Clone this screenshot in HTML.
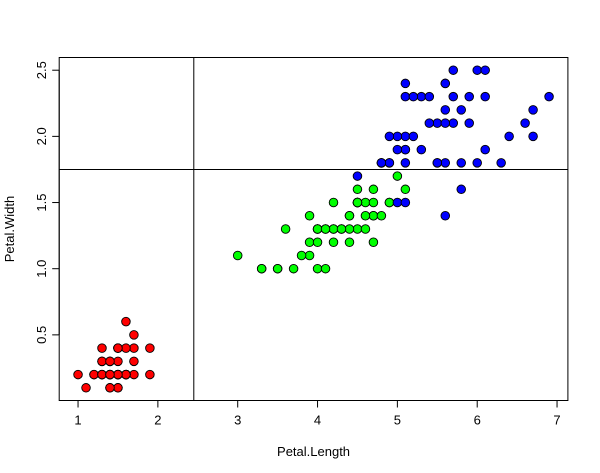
<!DOCTYPE html>
<html><head><meta charset="utf-8">
<style>
body{margin:0;background:#fff;}
svg{display:block;font-family:"Liberation Sans",Arial,sans-serif;}
</style></head>
<body>
<svg id="chart" width="600" height="473" viewBox="0 0 600 473" xmlns="http://www.w3.org/2000/svg">
<g id="axes"></g>
<g id="points"></g>
</svg>
<script>
const setosaLen=[1.4,1.4,1.3,1.5,1.4,1.7,1.4,1.5,1.4,1.5,1.5,1.6,1.4,1.1,1.2,1.5,1.3,1.4,1.7,1.5,1.7,1.5,1.0,1.7,1.9,1.6,1.6,1.5,1.4,1.6,1.6,1.5,1.5,1.4,1.5,1.2,1.3,1.4,1.3,1.5,1.3,1.3,1.3,1.6,1.9,1.4,1.6,1.4,1.5,1.4];
const setosaWid=[0.2,0.2,0.2,0.2,0.2,0.4,0.3,0.2,0.2,0.1,0.2,0.2,0.1,0.1,0.2,0.4,0.4,0.3,0.3,0.3,0.2,0.4,0.2,0.5,0.2,0.2,0.4,0.2,0.2,0.2,0.2,0.4,0.1,0.2,0.2,0.2,0.2,0.1,0.2,0.2,0.3,0.3,0.2,0.6,0.4,0.3,0.2,0.2,0.2,0.2];
const versiLen=[4.7,4.5,4.9,4.0,4.6,4.5,4.7,3.3,4.6,3.9,3.5,4.2,4.0,4.7,3.6,4.4,4.5,4.1,4.5,3.9,4.8,4.0,4.9,4.7,4.3,4.4,4.8,5.0,4.5,3.5,3.8,3.7,3.9,5.1,4.5,4.5,4.7,4.4,4.1,4.0,4.4,4.6,4.0,3.3,4.2,4.2,4.2,4.3,3.0,4.1];
const versiWid=[1.4,1.5,1.5,1.3,1.5,1.3,1.6,1.0,1.3,1.4,1.0,1.5,1.0,1.4,1.3,1.4,1.5,1.0,1.5,1.1,1.8,1.3,1.5,1.2,1.3,1.4,1.4,1.7,1.5,1.0,1.1,1.0,1.2,1.6,1.5,1.6,1.5,1.3,1.3,1.3,1.2,1.4,1.2,1.0,1.3,1.2,1.3,1.3,1.1,1.3];
const virgLen=[6.0,5.1,5.9,5.6,5.8,6.6,4.5,6.3,5.8,6.1,5.1,5.3,5.5,5.0,5.1,5.3,5.5,6.7,6.9,5.0,5.7,4.9,6.7,4.9,5.7,6.0,4.8,4.9,5.6,5.8,6.1,6.4,5.6,5.1,5.6,6.1,5.6,5.5,4.8,5.4,5.6,5.1,5.1,5.9,5.7,5.2,5.0,5.2,5.4,5.1];
const virgWid=[2.5,1.9,2.1,1.8,2.2,2.1,1.7,1.8,1.8,2.5,2.0,1.9,2.1,2.0,2.4,2.3,1.8,2.2,2.3,1.5,2.3,2.0,2.0,1.8,2.1,1.8,1.8,1.8,2.1,1.6,1.9,2.0,2.2,1.5,1.4,2.3,2.4,1.8,1.8,2.1,2.4,2.3,1.9,2.3,2.5,2.3,1.9,2.0,2.3,1.8];
const xTicks=[1,2,3,4,5,6,7];
const yTicks=[0.5,1.0,1.5,2.0,2.5];
const yTickLabels=["0.5","1.0","1.5","2.0","2.5"];
const splitLen=[2.45];
const splitWid=[1.75];

const NS="http://www.w3.org/2000/svg";
const L=59.2,R=567.9,T=57.5,B=400.5;
const xMin=0.764,xMax=7.136,yMin=0.004,yMax=2.596;
const sx=v=>L+(v-xMin)/(xMax-xMin)*(R-L);
const sy=v=>B-(v-yMin)/(yMax-yMin)*(B-T);
function mk(tag,attrs,parent){const e=document.createElementNS(NS,tag);for(const k in attrs)e.setAttribute(k,attrs[k]);parent.appendChild(e);return e;}
const ax=document.getElementById('axes');
const pts=document.getElementById('points');

let box=mk('rect',{x:L,y:T,width:R-L,height:B-T,fill:'none',stroke:'#000','stroke-width':1},ax);



// x axis
let xl=mk('line',{x1:sx(1),x2:sx(7),y1:B,y2:B,stroke:'#000'},ax);


xTicks.forEach(v=>{
  let t=mk('line',{x1:sx(v),x2:sx(v),y1:B,y2:B+7,stroke:'#000'},ax);
  
  
  let tx=mk('text',{x:sx(v),y:B+24,'text-anchor':'middle','font-size':13},ax);
  tx.textContent=String(v);
  
  
});
// y axis
let yl=mk('line',{x1:L,x2:L,y1:sy(0.5),y2:sy(2.5),stroke:'#000'},ax);


yTicks.forEach((v,i)=>{
  let t=mk('line',{x1:L-7,x2:L,y1:sy(v),y2:sy(v),stroke:'#000'},ax);
  
  
  let tx=mk('text',{x:0,y:0,'text-anchor':'middle','font-size':13,transform:`translate(${L-13},${sy(v)}) rotate(-90)`},ax);
  tx.textContent=yTickLabels[i];
  
  
});
let xt=mk('text',{x:(L+R)/2,y:456,'text-anchor':'middle','font-size':13},ax);
xt.textContent='Petal.Length';


let yt=mk('text',{x:0,y:0,'text-anchor':'middle','font-size':13,transform:`translate(14,${(T+B)/2}) rotate(-90)`},ax);
yt.textContent='Petal.Width';



// split lines
splitLen.forEach(v=>{
  let l=mk('line',{x1:sx(v),x2:sx(v),y1:T,y2:B,stroke:'#000','stroke-width':1},ax);
  
  
});
splitWid.forEach(v=>{
  let l=mk('line',{x1:L,x2:R,y1:sy(v),y2:sy(v),stroke:'#000','stroke-width':1},ax);
  
  
});

function series(xs,ys,color,name){
  xs.forEach((x,i)=>{
    let c=mk('circle',{cx:sx(x),cy:sy(ys[i]),r:4.3,fill:color,stroke:'#000','stroke-width':0.9},pts);
    
    
  });
}
series(setosaLen,setosaWid,'#ff0000','point-setosa');
series(versiLen,versiWid,'#00ff00','point-versicolor');
series(virgLen,virgWid,'#0000ff','point-virginica');
</script>
</body></html>
